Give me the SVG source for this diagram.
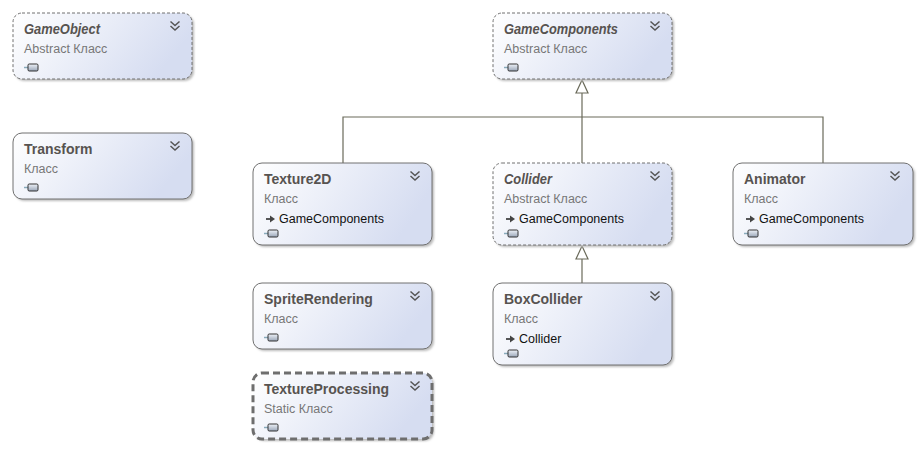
<svg xmlns="http://www.w3.org/2000/svg" width="924" height="451" viewBox="0 0 924 451">
<defs>
<linearGradient id="fill" x1="0" y1="0" x2="1" y2="0.3">
<stop offset="0" stop-color="#ffffff"/>
<stop offset="1" stop-color="#d6ddf1"/>
</linearGradient>
<linearGradient id="ico" x1="0" y1="0" x2="0" y2="1">
<stop offset="0" stop-color="#eef2f8"/>
<stop offset="1" stop-color="#9aa6b8"/>
</linearGradient>
<filter id="blur" x="-10%" y="-10%" width="120%" height="120%"><feGaussianBlur stdDeviation="1"/></filter>
<g id="chev"><polyline points="-4.5,-4.5 0,-0.5 4.5,-4.5" fill="none" stroke="#555" stroke-width="1.5"/><polyline points="-4.5,0 0,4 4.5,0" fill="none" stroke="#555" stroke-width="1.5"/></g>
<g id="icon"><line x1="-4" y1="3.5" x2="0" y2="3.5" stroke="#8ab" stroke-width="1.5"/><rect x="0" y="0" width="10" height="7" rx="1.2" fill="url(#ico)" stroke="#333" stroke-width="1"/></g>
<g id="inh"><path d="M0,0 L5,0" stroke="#444" stroke-width="1.8"/><path d="M4,-3.5 L9,0 L4,3.5 Z" fill="#444"/></g>
</defs>
<style>
.box{fill:url(#fill);stroke:#707070;stroke-width:1}
.abs{stroke-dasharray:3,2}
.stat{stroke:#6e6e6e;stroke-width:3;stroke-dasharray:7,4}
.sh{fill:#bbbbbb;filter:url(#blur)}
.t{font-family:"Liberation Sans",Arial,sans-serif;font-size:14px;font-weight:bold;fill:#575350}
.ti{font-style:italic}
.s{font-family:"Liberation Sans",Arial,sans-serif;font-size:12.5px;fill:#777}
.m{font-family:"Liberation Sans",Arial,sans-serif;font-size:12.5px;fill:#111}
.c{fill:none;stroke:#6a6a5a;stroke-width:1.2}
.ah{fill:#fff;stroke:#6a6a5a;stroke-width:1.2}
</style>
<rect width="924" height="451" fill="#fff"/>
<g id="connectors">
<polyline class="c" points="582,93 582,117"/>
<polyline class="c" points="343,163 343,117 823,117 823,163"/>
<polyline class="c" points="582,117 582,163"/>
<polygon class="ah" points="582,80 576,93 588,93"/>
<polyline class="c" points="582,259 582,283"/>
<polygon class="ah" points="582,246 576,259 588,259"/>
</g>
<g id="GameObject">
<rect class="sh" x="15" y="15" width="179" height="66" rx="9"/>
<rect class="box abs" x="13" y="13" width="179" height="66" rx="9"/>
<text class="t ti" x="24" y="34" textLength="76" lengthAdjust="spacingAndGlyphs">GameObject</text>
<text class="s" x="24" y="53">Abstract Класс</text>
<use href="#icon" x="28" y="64"/>
<use href="#chev" x="175" y="26"/>
</g>
<g id="Transform">
<rect class="sh" x="15" y="135" width="179" height="66" rx="9"/>
<rect class="box" x="13" y="133" width="179" height="66" rx="9"/>
<text class="t" x="24" y="154">Transform</text>
<text class="s" x="24" y="173">Класс</text>
<use href="#icon" x="28" y="184"/>
<use href="#chev" x="175" y="146"/>
</g>
<g id="GameComponents">
<rect class="sh" x="495" y="15" width="179" height="66" rx="9"/>
<rect class="box abs" x="493" y="13" width="179" height="66" rx="9"/>
<text class="t ti" x="504" y="34" textLength="114" lengthAdjust="spacingAndGlyphs">GameComponents</text>
<text class="s" x="504" y="53">Abstract Класс</text>
<use href="#icon" x="508" y="64"/>
<use href="#chev" x="655" y="26"/>
</g>
<g id="Texture2D">
<rect class="sh" x="255" y="165" width="179" height="82" rx="9"/>
<rect class="box" x="253" y="163" width="179" height="82" rx="9"/>
<text class="t" x="264" y="184">Texture2D</text>
<text class="s" x="264" y="203">Класс</text>
<use href="#inh" x="266" y="219"/>
<text class="m" x="279" y="223">GameComponents</text>
<use href="#icon" x="268" y="230"/>
<use href="#chev" x="415" y="176"/>
</g>
<g id="Collider">
<rect class="sh" x="495" y="165" width="179" height="82" rx="9"/>
<rect class="box abs" x="493" y="163" width="179" height="82" rx="9"/>
<text class="t ti" x="504" y="184" textLength="48" lengthAdjust="spacingAndGlyphs">Collider</text>
<text class="s" x="504" y="203">Abstract Класс</text>
<use href="#inh" x="506" y="219"/>
<text class="m" x="519" y="223">GameComponents</text>
<use href="#icon" x="508" y="230"/>
<use href="#chev" x="655" y="176"/>
</g>
<g id="Animator">
<rect class="sh" x="735" y="165" width="180" height="82" rx="9"/>
<rect class="box" x="733" y="163" width="180" height="82" rx="9"/>
<text class="t" x="744" y="184">Animator</text>
<text class="s" x="744" y="203">Класс</text>
<use href="#inh" x="746" y="219"/>
<text class="m" x="759" y="223">GameComponents</text>
<use href="#icon" x="748" y="230"/>
<use href="#chev" x="895" y="176"/>
</g>
<g id="SpriteRendering">
<rect class="sh" x="255" y="285" width="179" height="66" rx="9"/>
<rect class="box" x="253" y="283" width="179" height="66" rx="9"/>
<text class="t" x="264" y="304">SpriteRendering</text>
<text class="s" x="264" y="323">Класс</text>
<use href="#icon" x="268" y="334"/>
<use href="#chev" x="415" y="296"/>
</g>
<g id="BoxCollider">
<rect class="sh" x="495" y="285" width="179" height="82" rx="9"/>
<rect class="box" x="493" y="283" width="179" height="82" rx="9"/>
<text class="t" x="504" y="304">BoxCollider</text>
<text class="s" x="504" y="323">Класс</text>
<use href="#inh" x="506" y="339"/>
<text class="m" x="519" y="343">Collider</text>
<use href="#icon" x="508" y="350"/>
<use href="#chev" x="655" y="296"/>
</g>
<g id="TextureProcessing">
<rect class="sh" x="255" y="375" width="179" height="66" rx="9"/>
<rect class="box stat" x="253" y="373" width="179" height="66" rx="9"/>
<text class="t" x="264" y="394">TextureProcessing</text>
<text class="s" x="264" y="413">Static Класс</text>
<use href="#icon" x="268" y="424"/>
<use href="#chev" x="415" y="386"/>
</g>
</svg>
